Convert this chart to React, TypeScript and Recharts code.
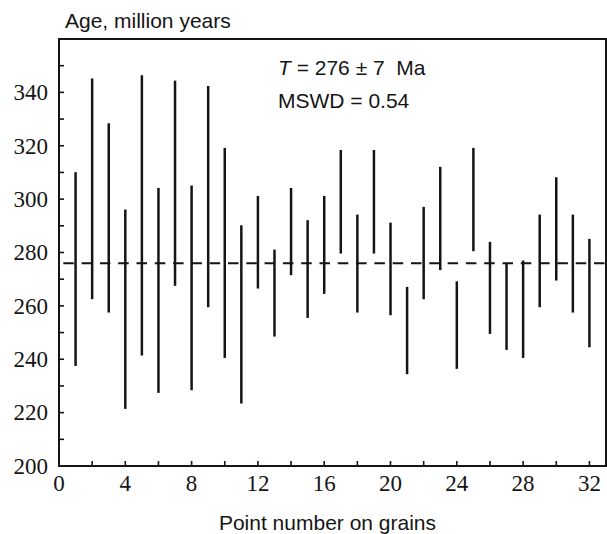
import React from 'react';
import {
  ScatterChart,
  Scatter,
  XAxis,
  YAxis,
  ErrorBar,
  ReferenceLine,
  ReferenceArea,
} from 'recharts';

// Grain point numbers
const grains = [
  1, 2, 3, 4, 5, 6, 7, 8, 9, 10, 11, 12, 13, 14, 15, 16,
  17, 18, 19, 20, 21, 22, 23, 24, 25, 26, 27, 28, 29, 30, 31, 32,
];
// Lower end of each age interval (Ma)
const lowAges = [
  237.5, 262.5, 257.5, 221.4, 241.4, 227.4, 267.5, 228.4,
  259.5, 240.5, 223.4, 266.5, 248.5, 271.5, 255.5, 264.5,
  279.6, 257.5, 279.6, 256.5, 234.4, 262.5, 273.4, 236.4,
  280.5, 249.5, 243.5, 240.5, 259.5, 269.5, 257.5, 244.5,
];
// Upper end of each age interval (Ma)
const highAges = [
  310.1, 345.2, 328.4, 296.1, 346.4, 304.2, 344.4, 305.1,
  342.4, 319.2, 290.2, 301.2, 281.1, 304.2, 292.1, 301.2,
  318.4, 294.2, 318.4, 291.2, 267.1, 297.1, 312.1, 269.2,
  319.2, 284.0, 276.0, 277.0, 294.2, 308.2, 294.2, 285.1,
];
const meanAge = 276;
const xTicks = [0, 2, 4, 6, 8, 10, 12, 14, 16, 18, 20, 22, 24, 26, 28, 30, 32];
const yTicks = [200, 210, 220, 230, 240, 250, 260, 270, 280, 290, 300, 310, 320, 330, 340, 350];

const data = grains.map((g, i) => {
  const mid = (lowAges[i] + highAges[i]) / 2;
  return { grain: g, mid, err: [mid - lowAges[i], highAges[i] - mid] };
});

const INK = '#151515';
const sans = 'Arial, "Liberation Sans", Helvetica, sans-serif';
const serif = '"Liberation Serif", "Times New Roman", Times, serif';

const XTick = (props: any) => {
  const { x, y, payload } = props;
  const v = payload.value as number;
  if (v % 4 !== 0) return <g />;
  return (
    <text x={x} y={y} dy="0.71em" textAnchor="middle" fontFamily={serif} fontSize={23} fill={INK}>
      {v}
    </text>
  );
};

const YTick = (props: any) => {
  const { x, y, payload } = props;
  const v = payload.value as number;
  if (v % 20 !== 0) return <g />;
  return (
    <text x={x} y={y} dy="0.34em" textAnchor="end" fontFamily={serif} fontSize={23} fill={INK}>
      {v}
    </text>
  );
};

export default function App() {
  return (
    <div style={{ position: 'absolute', left: 0, top: 0, background: '#fff' }}>
      <ScatterChart
        width={607}
        height={534}
        margin={{ top: 39, right: 1, bottom: 0, left: 0 }}
      >
        <XAxis
          type="number"
          dataKey="grain"
          domain={[0, 33]}
          ticks={xTicks}
          interval={0}
          allowDataOverflow
          height={68}
          tickSize={-5}
          tickMargin={14}
          axisLine={{ stroke: INK, strokeWidth: 2 }}
          tickLine={{ stroke: INK, strokeWidth: 1.6 }}
          tick={XTick}
        />
        <YAxis
          type="number"
          dataKey="mid"
          domain={[200, 360]}
          ticks={yTicks}
          interval={0}
          allowDataOverflow
          width={59}
          tickSize={-5}
          tickMargin={16}
          axisLine={{ stroke: INK, strokeWidth: 2 }}
          tickLine={{ stroke: INK, strokeWidth: 1.6 }}
          tick={YTick}
        />
        <ReferenceArea
          x1={0}
          x2={33}
          y1={200}
          y2={360}
          fill="none"
          fillOpacity={0}
          stroke={INK}
          strokeWidth={2}
        />
        <ReferenceLine
          y={meanAge}
          stroke={INK}
          strokeWidth={2}
          strokeDasharray="10.5 7.8"
          strokeDashoffset={14}
        />
        <Scatter
          data={data}
          isAnimationActive={false}
          shape={() => <g />}
        >
          <ErrorBar
            dataKey="err"
            direction="y"
            width={0}
            stroke={INK}
            strokeWidth={2.5}
            isAnimationActive={false}
          />
        </Scatter>
        <text x={65} y={28} fontFamily={sans} fontSize={21} fill={INK}>
          Age, million years
        </text>
        <text x={278} y={75} fontFamily={sans} fontSize={21} fill={INK}>
          <tspan fontStyle="italic">T</tspan>
          <tspan>{'\u00a0= 276 ± 7 \u00a0Ma'}</tspan>
        </text>
        <text x={278} y={108} fontFamily={sans} fontSize={21} fill={INK}>
          MSWD = 0.54
        </text>
        <text
          x={327.5}
          y={530}
          textAnchor="middle"
          fontFamily={sans}
          fontSize={21}
          fill={INK}
        >
          Point number on grains
        </text>
      </ScatterChart>
    </div>
  );
}
